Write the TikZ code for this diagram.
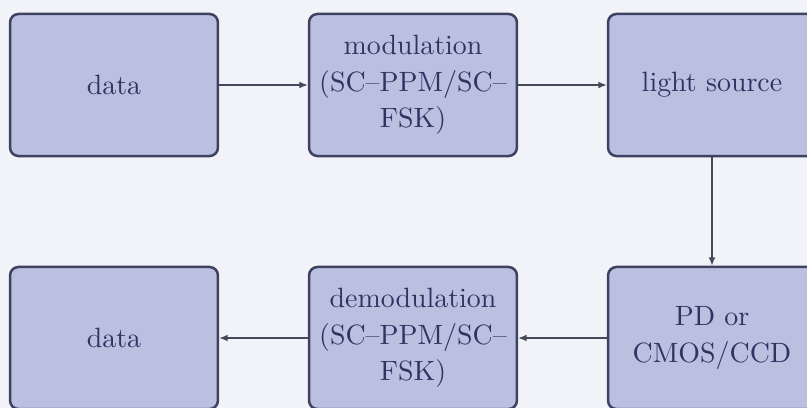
\documentclass[tikz,border=0pt]{standalone}
\usetikzlibrary{arrows.meta}
\definecolor{bgc}{RGB}{242,243,248}
\definecolor{boxfill}{RGB}{188,192,224}
\definecolor{boxline}{RGB}{62,66,98}
\definecolor{inkc}{RGB}{48,52,98}
\definecolor{wirec}{RGB}{70,72,90}
\begin{document}
\begin{tikzpicture}[x=0.3584pt,y=-0.3584pt,
  blockbox/.style={draw=boxline,line width=0.9pt,fill=boxfill,rounded corners=3pt,
    minimum width=74.5pt,minimum height=50.9pt,inner sep=0pt,align=center,
    text=inkc,font=\fontsize{10}{13}\selectfont},
  flow/.style={draw=wirec,line width=0.5pt,-{Latex[length=3pt,width=2.4pt]}}]
  \fill[bgc] (0,0) rectangle (807,408);
  \useasboundingbox (0,0) rectangle (807,408);
  \node[blockbox] (src)  at (114,85)  {data};
  \node[blockbox] (mod)  at (413,85)  {modulation\\(SC--PPM/SC--\\FSK)};
  \node[blockbox] (led)  at (712,85)  {light source};
  \node[blockbox] (det)  at (712,338) {PD or\\CMOS/CCD};
  \node[blockbox] (dem)  at (413,338) {demodulation\\(SC--PPM/SC--\\FSK)};
  \node[blockbox] (sink) at (114,338) {data};
  \draw[flow] (src) -- (mod);
  \draw[flow] (mod) -- (led);
  \draw[flow] (led) -- (det);
  \draw[flow] (det) -- (dem);
  \draw[flow] (dem) -- (sink);
\end{tikzpicture}
\end{document}
